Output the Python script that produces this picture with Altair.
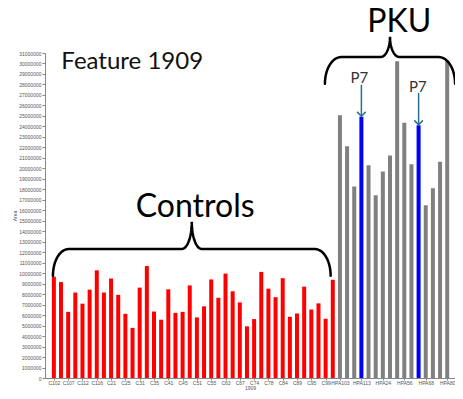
import altair as alt
import pandas as pd
import numpy as np

# ---- data ----
control_values = [9.67, 9.15, 6.31, 8.15, 7.09, 8.43, 10.27, 8.15, 9.49, 7.93,
                  6.12, 4.78, 8.62, 10.68, 6.34, 5.56, 8.46, 6.21, 6.31, 8.83,
                  5.78, 6.84, 9.40, 7.65, 9.96, 8.27, 7.21, 4.93, 5.62, 10.12,
                  8.52, 7.71, 9.52, 5.84, 6.15, 8.71, 6.53, 7.12, 5.65, 9.37]
pku_values = [25.07, 22.10, 18.26, 24.91, 20.29, 17.42, 19.70, 21.23, 30.22, 24.35,
              20.39, 24.10, 16.48, 18.10, 20.63, 30.32]
p7_positions = [3, 11]  # within PKU group

control_labels = ["C102", "C107", "C112", "C116", "C21", "C25", "C31", "C35", "C41", "C45",
                  "C51", "C55", "C63", "C67", "C74", "C78", "C84", "C89", "C95", "C99"]
control_label_idx = list(range(0, 40, 2))
pku_labels = ["HPA103", "HPA113", "HPA24", "HPA56", "HPA68", "HPA80"]
pku_label_idx = [40, 43, 46, 49, 52, 55]

y_ticks = list(range(0, 31000001, 1000000))

# ---- build tables ----
n_c = len(control_values)
rows = []
for i, v in enumerate(control_values):
    rows.append({"x": i, "y": v * 1e6, "c": "#ff0000"})
for j, v in enumerate(pku_values):
    rows.append({"x": n_c + j, "y": v * 1e6, "c": "#0000ff" if j in p7_positions else "#808080"})
bars = pd.DataFrame(rows)
n = len(rows)

names = [""] * n
for i, l in zip(control_label_idx, control_labels):
    names[i] = l
for i, l in zip(pku_label_idx, pku_labels):
    names[i] = l
label_expr = "[" + ",".join('"%s"' % s for s in names) + "][datum.value]"


def brace(x0, x1, y_end, y_h, y_tip, r, r2, k=16):
    xm = (x0 + x1) / 2
    t = np.linspace(0, np.pi / 2, k)
    pts = []
    pts += [(x0 + r * (1 - np.cos(a)), y_end + (y_h - y_end) * np.sin(a)) for a in t]
    pts += [(xm - r2 + r2 * np.sin(a), y_h + (y_tip - y_h) * (1 - np.cos(a))) for a in t]
    pts += [(xm + r2 - r2 * np.sin(a), y_h + (y_tip - y_h) * (1 - np.cos(a))) for a in t[::-1]]
    pts += [(x1 - r * (1 - np.cos(a)), y_end + (y_h - y_end) * np.sin(a)) for a in t[::-1]]
    return pts

br_rows = []
for name, spec in [("ctrl", (-0.13, 38.7, 9.75e6, 12.3e6, 14.9e6, 2.2, 1.4)),
                   ("pku", (37.9, 56.1, 28.06e6, 30.62e6, 32.55e6, 2.3, 1.3))]:
    for o, (px, py) in enumerate(brace(*spec)):
        br_rows.append({"g": name, "x": px, "y": py, "o": o})
braces = pd.DataFrame(br_rows)

arrows = pd.DataFrame({"x": [43, 51], "y": [27.97e6, 27.2e6], "y2": [24.97e6, 24.16e6]})
p7 = pd.DataFrame({"x": [42.7, 50.9], "y": [28.16e6, 27.3e6], "t": ["P7", "P7"]})
controls_txt = pd.DataFrame({"x": [19.75], "y": [15.36e6], "t": ["Controls"]})
pku_txt = pd.DataFrame({"x": [48.3], "y": [33.0e6], "t": ["PKU"]})
title = pd.DataFrame({"x": [1.05], "y": [29.48e6], "t": ["Feature 1909"]})

W, H = 410, 325
xscale = alt.Scale(domain=[-0.54, 55.39], nice=False, zero=False)
yscale = alt.Scale(domain=[0, 31000000], nice=False)

xaxis = alt.Axis(values=control_label_idx + pku_label_idx, labelExpr=label_expr,
                 labelFontSize=5, labelColor="#555", labelFont="Liberation Sans",
                 labelAngle=0, labelFlush=False, labelOverlap=False, labelPadding=0,
                 tickSize=2, tickColor="#888", domainColor="#888", grid=False,
                 title="1909", titleFontSize=5, titleFontWeight="normal",
                 titleColor="#555", titlePadding=0, titleFont="Liberation Sans")
yaxis = alt.Axis(values=y_ticks, format="d", labelFontSize=5, labelColor="#555",
                 labelFont="Liberation Sans", labelPadding=1, tickSize=3,
                 tickColor="#888", domainColor="#888", grid=False,
                 title="Area", titleFontSize=5, titleFontWeight="normal",
                 titleColor="#555", titlePadding=1, titleFont="Liberation Sans")

X = alt.X("x:Q", scale=xscale, axis=xaxis)
Y = alt.Y("y:Q", scale=yscale, axis=yaxis)

bar_layer = alt.Chart(bars).mark_bar(size=4).encode(
    x=X, y=Y, color=alt.Color("c:N", scale=None))

brace_layer = alt.Chart(braces).mark_line(color="#000", strokeWidth=2.5,
                                          strokeCap="round").encode(
    x=X, y=Y, detail="g:N", order="o:Q")

rule_layer = alt.Chart(arrows).mark_rule(color="#2a6f8f", strokeWidth=1.5).encode(
    x=X, y=Y, y2="y2:Q")
head_layer = alt.Chart(arrows).mark_point(shape="M-1,-1L0,0L1,-1", filled=False,
                                          size=75, color="#2a6f8f", strokeWidth=1.5,
                                          opacity=1).encode(
    x=X, y=alt.Y("y2:Q", scale=yscale, axis=yaxis))

p7_layer = alt.Chart(p7).mark_text(font="Lato", fontSize=15, color="#333",
                                   align="center", baseline="alphabetic").encode(
    x=X, y=Y, text="t:N")
controls_layer = alt.Chart(controls_txt).mark_text(font="Lato", fontSize=32, color="#000",
                                                   align="center", baseline="alphabetic").encode(
    x=X, y=Y, text="t:N")
pku_layer = alt.Chart(pku_txt).mark_text(font="Lato", fontSize=32, color="#000",
                                         align="center", baseline="alphabetic").encode(
    x=X, y=Y, text="t:N")
title_layer = alt.Chart(title).mark_text(font="Lato", fontSize=24, color="#111",
                                         align="left", baseline="alphabetic").encode(
    x=X, y=Y, text="t:N")

chart = alt.layer(bar_layer, brace_layer, rule_layer, head_layer,
                  p7_layer, controls_layer, pku_layer, title_layer).properties(
    width=W, height=H,
    autosize=alt.AutoSizeParams(type="none"),
    padding={"left": 37, "top": 45, "right": 0, "bottom": 13},
    background="white",
).configure_view(stroke=None)

chart.save("out.html", embed_options={"renderer": "svg", "actions": False})
